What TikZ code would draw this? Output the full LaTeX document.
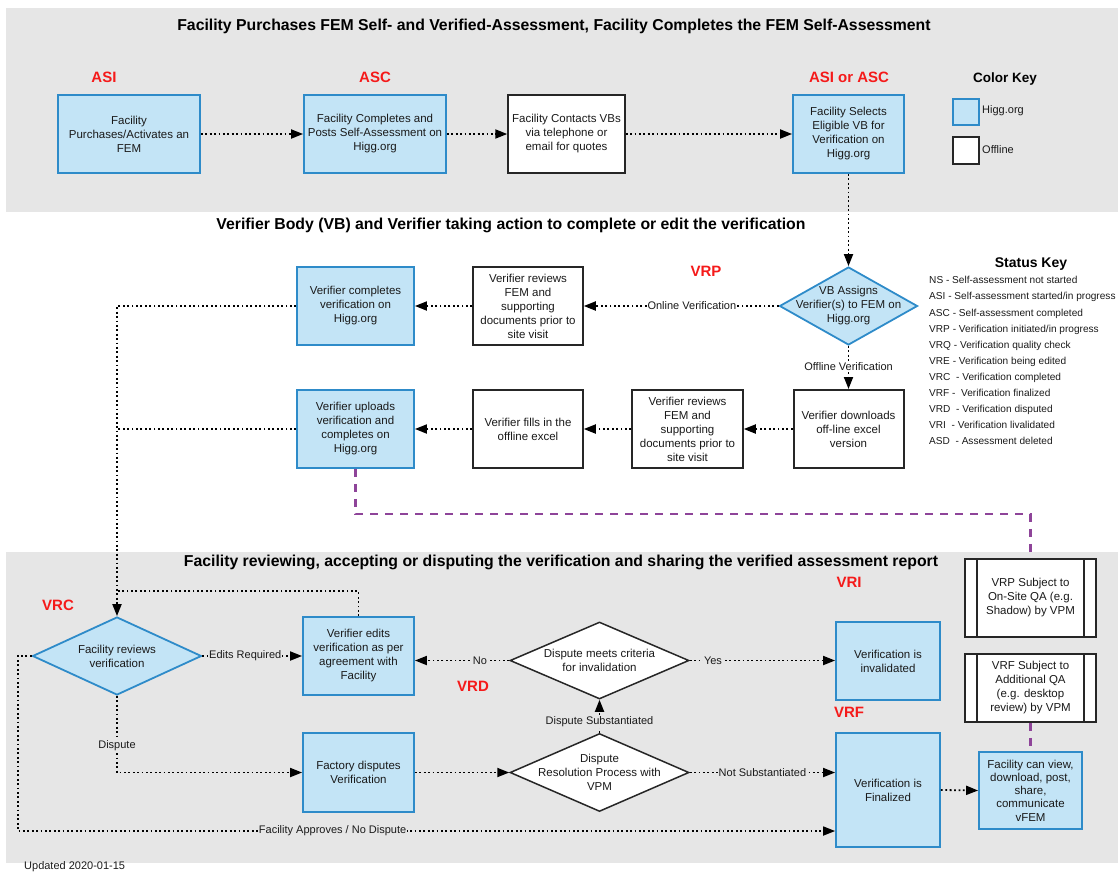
\documentclass[tikz,border=0pt]{standalone}
\usepackage{fontspec}
\setmainfont{Liberation Sans}
\usetikzlibrary{shapes.geometric,arrows.meta,calc}
\definecolor{panel}{HTML}{E6E6E6}
\definecolor{bfill}{HTML}{C3E4F6}
\definecolor{bline}{HTML}{2E8BC9}
\definecolor{keyred}{HTML}{F51A1A}
\definecolor{purp}{HTML}{8E4499}
\definecolor{txt}{HTML}{1A1A1A}
\begin{document}
\begin{tikzpicture}[x=1pt,y=-1pt,
  every node/.style={font=\fontsize{11.5}{14}\selectfont, text=txt},
  bbox/.style={draw=bline, line width=1.8pt, fill=bfill, rectangle, inner sep=0pt, align=center},
  wbox/.style={draw=black!85, line width=1.5pt, fill=white, rectangle, inner sep=0pt, align=center},
  bdia/.style={draw=bline, line width=1.8pt, fill=bfill, diamond, inner sep=0pt},
  wdia/.style={draw=black!85, line width=1.5pt, fill=white, diamond, inner sep=0pt},
  dtext/.style={align=center, inner sep=0pt},
  flow/.style={line width=1.8pt, dash pattern=on 1.8pt off 2.6pt, -{Triangle[length=12pt,width=9pt]}},
  dline/.style={line width=1.8pt, dash pattern=on 1.8pt off 2.6pt},
  lab/.style={font=\fontsize{11}{13}\selectfont, inner sep=1pt, fill=white},
  glab/.style={lab, fill=panel},
  status/.style={font=\bfseries\fontsize{15}{18}\selectfont, text=keyred},
  title/.style={font=\bfseries\fontsize{15.8}{18}\selectfont, text=black},
  purpline/.style={draw=purp, line width=2.4pt, dash pattern=on 8pt off 7pt},
  qaline/.style={draw=black!85, line width=1.6pt},
]
\useasboundingbox (0,0) rectangle (1118,873);
\fill[panel] (6,8) rectangle (1118,212);
\fill[panel] (6,552) rectangle (1118,863);

% titles
\node[title] (t1) at (554,26) {Facility Purchases FEM Self- and Verified-Assessment, Facility Completes the FEM Self-Assessment};
\node[title] (t2) at (511,225) {Verifier Body (VB) and Verifier taking action to complete or edit the verification};
\node[title] (t3) at (561,562) {Facility reviewing, accepting or disputing the verification and sharing the verified assessment report};

% status labels
\node[status] (s1) at (104,77) {ASI};
\node[status] (s2) at (375,77) {ASC};
\node[status] (s3) at (849,77) {ASI or ASC};
\node[status] (s4) at (706,271) {VRP};
\node[status] (s5) at (58,605) {VRC};
\node[status] (s6) at (473,686) {VRD};
\node[status] (s7) at (849,582) {VRI};
\node[status] (s8) at (849,712) {VRF};

% color key
\node[font=\bfseries\fontsize{13.5}{16}\selectfont, text=black] (ck) at (1005,79) {Color Key};
\node[bbox, minimum width=26pt, minimum height=26pt] (k1) at (966,112) {};
\node[wbox, line width=1.8pt, minimum width=26pt, minimum height=27pt] (k2) at (966,150.5) {};
\node[anchor=west, font=\fontsize{11}{13}\selectfont, inner sep=0pt] (k1t) at (982,111) {Higg.org};
\node[anchor=west, font=\fontsize{11}{13}\selectfont, inner sep=0pt] (k2t) at (982,150) {Offline};

% status key
\node[font=\bfseries\fontsize{14}{16}\selectfont, text=black] (sk) at (1031,264) {Status Key};
\foreach \t [count=\i] in {NS - Self-assessment not started,
  ASI - Self-assessment started/in progress,
  ASC - Self-assessment completed,
  VRP - Verification initiated/in progress,
  VRQ - Verification quality check,
  VRE - Verification being edited,
  VRC\ \ - Verification completed,
  VRF -\ \ Verification finalized,
  VRD\ \ - Verification disputed,
  VRI\ \ - Verification livalidated,
  ASD\ \ - Assessment deleted}
  \node[anchor=base west, inner sep=0pt, font=\fontsize{10.1}{12}\selectfont] (sl\i) at (929,{283.8+16.1*(\i-1)}) {\t};

% top row
\node[bbox, minimum width=142pt, minimum height=78pt] (B1) at (129,134) {Facility\\Purchases/Activates an\\FEM};
\node[bbox, minimum width=142pt, minimum height=78pt] (B2) at (375,134) {Facility Completes and\\Posts Self-Assessment on\\Higg.org};
\node[wbox, minimum width=117pt, minimum height=78pt] (B3) at (566.5,134) {Facility Contacts VBs\\via telephone or\\email for quotes};
\node[bbox, minimum width=111pt, minimum height=78pt] (B4) at (848.5,134) {Facility Selects\\Eligible VB for\\Verification on\\Higg.org};

% middle section
\node[bdia, minimum width=138pt, minimum height=78pt] (D1) at (848.5,306) {};
\node[dtext] (D1t) at (D1) {VB Assigns\\Verifier(s) to FEM on\\Higg.org};
\node[wbox, minimum width=110pt, minimum height=78pt] (R1) at (528,306) {Verifier reviews\\FEM and\\supporting\\documents prior to\\site visit};
\node[bbox, minimum width=117pt, minimum height=78pt] (C1) at (355.5,306) {Verifier completes\\verification on\\Higg.org};
\node[wbox, line width=2pt, minimum width=110pt, minimum height=78pt] (V1) at (848.5,429) {Verifier downloads\\off-line excel\\version};
\node[wbox, minimum width=111pt, minimum height=78pt] (R2) at (687.5,429) {Verifier reviews\\FEM and\\supporting\\documents prior to\\site visit};
\node[wbox, minimum width=110pt, minimum height=78pt] (F1) at (528,429) {Verifier fills in the\\offline excel};
\node[bbox, minimum width=117pt, minimum height=78pt] (U1) at (355.5,429) {Verifier uploads\\verification and\\completes on\\Higg.org};

% bottom section
\node[bdia, minimum width=169pt, minimum height=78pt] (D2) at (117,656) {};
\node[dtext] (D2t) at (D2) {Facility reviews\\verification};
\node[bbox, minimum width=111pt, minimum height=78pt] (E1) at (358.5,656) {Verifier edits\\verification as per\\agreement with\\Facility};
\node[bbox, minimum width=111pt, minimum height=79pt] (FD) at (358.5,772.5) {Factory disputes\\Verification};
\node[wdia, minimum width=179pt, minimum height=77pt] (D3) at (599.5,660.5) {};
\node[dtext] (D3t) at (D3) {Dispute meets criteria\\for invalidation};
\node[wdia, minimum width=179pt, minimum height=78pt] (D4) at (599.5,772.5) {};
\node[dtext] (D4t) at (D4) {Dispute\\Resolution Process with\\VPM};
\node[bbox, minimum width=104pt, minimum height=78pt] (I1) at (888,661) {Verification is\\invalidated};
\node[bbox, minimum width=104pt, minimum height=114pt] (FN) at (888,790) {Verification is\\Finalized};
\node[bbox, minimum width=103pt, minimum height=77pt, font=\fontsize{11.5}{13.2}\selectfont] (FV) at (1030.5,790.5) {Facility can view,\\download, post,\\share,\\communicate\\vFEM};
\node[wbox, line width=1.6pt, minimum width=131pt, minimum height=78pt] (QA1) at (1030.5,598) {VRP Subject to\\On-Site QA (e.g.\\Shadow) by VPM};
\node[wbox, line width=1.6pt, minimum width=131pt, minimum height=68pt] (QA2) at (1030.5,688) {VRF Subject to\\Additional QA\\(e.g. desktop\\review) by VPM};
\draw[qaline] ([xshift=13pt]QA1.north west) -- ([xshift=13pt]QA1.south west);
\draw[qaline] ([xshift=-13pt]QA1.north east) -- ([xshift=-13pt]QA1.south east);
\draw[qaline] ([xshift=13pt]QA2.north west) -- ([xshift=13pt]QA2.south west);
\draw[qaline] ([xshift=-13pt]QA2.north east) -- ([xshift=-13pt]QA2.south east);

\node[anchor=west, inner sep=0pt, font=\fontsize{11}{13}\selectfont] (upd) at (24,867) {Updated 2020-01-15};

% connectors top
\draw[flow] (B1.east) -- (B2.west);
\draw[flow] (B2.east) -- (B3.west);
\draw[flow] (B3.east) -- (B4.west);
\draw[flow] (B4.south) -- (D1.north);

% connectors middle
\draw[flow] (D1.west) -- node[lab, pos=0.445] {Online Verification} (R1.east);
\draw[flow] (R1.west) -- (C1.east);
\draw[flow] (C1.west) -| (D2.north);
\draw[dline] (U1.west) -- (U1.west -| D2.north);
\draw[flow] (D1.south) -- node[lab, pos=0.47] {Offline Verification} (V1.north);
\draw[flow] (V1.west) -- (R2.east);
\draw[flow] (R2.west) -- (F1.east);
\draw[flow] (F1.west) -- (U1.east);

% purple
\coordinate (pj) at (1030.5,514);
\draw[purpline] (U1.south) |- (pj) -- (QA1.north);
\draw[purpline] (QA2.south) -- (FV.north);

% connectors bottom
\coordinate (lp) at (117,591);
\draw[dline] (E1.north) |- (lp);
\draw[flow] (D2.east) -- node[glab, pos=0.43] {Edits Required} (E1.west);
\draw[flow] (D2.south) |- node[glab, pos=0.325] {Dispute} (FD.west);
\draw[flow] (D3.west) -- node[glab, pos=0.31] {No} (D3.west -| E1.east);
\draw[flow] (FD.east) -- (D4.west);
\draw[flow] (D4.north) -- node[glab, pos=0.34] {Dispute Substantiated} (D3.south);
\draw[flow] (D3.east) -- node[glab, pos=0.16] {Yes} (D3.east -| I1.west);
\draw[flow] (D4.east) -- node[glab, pos=0.5] {Not Substantiated} (D4.east -| FN.west);
\coordinate (fl) at (18,831);
\draw[flow] (D2.west) -| (fl) -- node[glab, pos=0.385] {Facility Approves / No Dispute} (fl -| FN.west);
\draw[flow] (FN.east) -- (FV.west);
\end{tikzpicture}
\end{document}
